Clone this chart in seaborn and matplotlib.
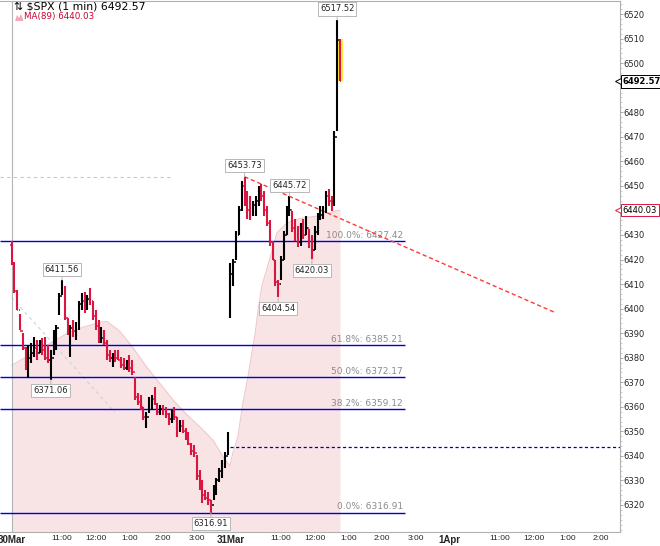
import numpy as np
import pandas as pd
import seaborn as sns
import matplotlib
matplotlib.use("Agg")
import matplotlib.pyplot as plt
from matplotlib.patches import Polygon
from matplotlib.transforms import blended_transform_factory

# -----------------------
# Data (5-minute bars)
# x = session minute: 0 = 30Mar 9:30, 390 = 31Mar 9:30, 780 = 1Apr 9:30
# -----------------------
bar_minute = list(range(0, 390, 5)) + list(range(390, 590, 5))

highs = [
    6427.4, 6418.8, 6407.4, 6398.0, 6389.9, 6384.2, 6385.1, 6385.9, 6388.3, 6387.1,
    6387.1, 6387.9, 6388.3, 6385.1, 6383.0, 6391.1, 6393.2, 6406.2, 6411.56, 6409.4,
    6396.0, 6393.2, 6395.2, 6394.4, 6403.3, 6406.2, 6406.6, 6405.4, 6408.2, 6403.3,
    6399.3, 6395.2, 6392.4, 6391.1, 6387.1, 6383.0, 6381.8, 6383.0, 6383.0, 6380.2,
    6379.8, 6378.9, 6381.0, 6378.9, 6372.0, 6365.5, 6364.7, 6359.8, 6357.8, 6363.9,
    6364.7, 6368.0, 6361.5, 6360.7, 6360.7, 6359.8, 6357.4, 6358.6, 6359.8, 6355.8,
    6354.6, 6354.6, 6351.3, 6349.7, 6345.2, 6344.4, 6340.3, 6334.2, 6330.2, 6326.1,
    6325.3, 6322.0, 6328.1, 6331.0, 6335.0, 6338.3, 6341.5, 6349.7,
    6418.4, 6420.4, 6431.8, 6441.9, 6452.1, 6453.73, 6448.1, 6446.0, 6444.0, 6446.0,
    6450.1, 6450.9, 6448.1, 6441.9, 6435.9, 6427.7, 6419.6, 6411.5, 6421.6, 6431.8,
    6441.9, 6445.72, 6439.9, 6436.7, 6433.8, 6435.0, 6436.7, 6437.9, 6432.6, 6429.8,
    6433.8, 6439.1, 6441.9, 6441.9, 6448.1, 6448.9, 6446.0, 6472.4, 6517.52, 6509.8,
]
lows = [
    6417.6, 6406.2, 6399.3, 6391.1, 6383.0, 6374.9, 6371.8, 6377.7, 6380.2, 6378.9,
    6381.8, 6381.0, 6378.9, 6377.7, 6371.06, 6381.0, 6383.0, 6397.2, 6405.4, 6395.2,
    6389.1, 6380.2, 6388.3, 6387.1, 6391.1, 6399.3, 6398.4, 6399.3, 6401.3, 6395.2,
    6391.1, 6385.9, 6385.9, 6385.1, 6378.9, 6378.1, 6376.1, 6378.1, 6378.9, 6375.7,
    6374.9, 6374.9, 6374.1, 6373.0, 6362.7, 6360.7, 6358.6, 6354.6, 6351.3, 6357.4,
    6358.6, 6360.7, 6356.6, 6356.6, 6356.6, 6355.4, 6352.5, 6353.3, 6354.6, 6347.7,
    6349.7, 6349.3, 6346.4, 6344.4, 6340.3, 6339.5, 6330.2, 6326.1, 6320.8, 6322.0,
    6320.0, 6316.91, 6322.0, 6324.1, 6329.3, 6331.0, 6335.0, 6340.3,
    6396.0, 6409.4, 6419.6, 6429.8, 6439.9, 6441.9, 6436.7, 6435.9, 6437.9, 6437.9,
    6441.9, 6444.0, 6437.9, 6433.8, 6425.7, 6419.6, 6409.4, 6404.54, 6411.5, 6419.6,
    6429.8, 6437.9, 6431.0, 6427.7, 6424.9, 6425.7, 6428.5, 6429.8, 6424.5, 6420.03,
    6423.7, 6429.8, 6435.9, 6436.7, 6439.1, 6441.9, 6439.9, 6441.9, 6472.4, 6492.57,
]
closes = [
    6418, 6407, 6399.5, 6391, 6384, 6376, 6380, 6382, 6384, 6382,
    6386, 6383, 6380, 6379, 6380, 6388, 6392, 6405, 6408, 6396,
    6390, 6392, 6391, 6393, 6402, 6403, 6401, 6404, 6403, 6397,
    6393, 6388, 6388, 6386, 6381, 6380, 6381, 6380, 6379, 6377,
    6376, 6377, 6376, 6374, 6364, 6362, 6360, 6356, 6356, 6362,
    6363, 6361, 6358, 6359, 6358, 6357, 6355, 6357, 6356, 6350,
    6352, 6350, 6348, 6345, 6342, 6341, 6332, 6328, 6324, 6323,
    6322, 6320, 6326, 6330, 6334, 6337, 6340, 6343.6,
    6414, 6419, 6430, 6440, 6450, 6444, 6440, 6438, 6442, 6444,
    6448, 6446, 6440, 6435, 6427, 6420, 6411, 6410, 6420, 6430,
    6440, 6440, 6433, 6430, 6427, 6432, 6430, 6433, 6426, 6424,
    6431, 6437, 6438, 6440, 6446, 6444, 6442, 6470, 6509.5, 6492.57,
]
session_open = {0: 6426.0, 390: 6399.0}

ma_minute = [0, 38, 69, 99, 127, 158, 170, 193, 216, 241, 264, 288, 313, 336, 359,
             377, 389, 394, 403, 412, 421, 428, 434, 439, 446, 455, 464, 473, 491,
             514, 550, 580, 585]
ma_value = [6376.9, 6381.8, 6385.9, 6389.9, 6392.4, 6394.4, 6394.8, 6390.7, 6384.2,
            6376.1, 6369.6, 6362.7, 6356.6, 6351.7, 6346.4, 6339.5, 6335.9, 6341.1,
            6347.6, 6361.5, 6372.0, 6381.8, 6389.9, 6399.3, 6409.4, 6416.3, 6423.7,
            6431.0, 6435.0, 6436.7, 6437.9, 6439.9, 6440.03]

fib_pct = ["100.0%", "61.8%", "50.0%", "38.2%", "0.0%"]
fib_level = [6427.42, 6385.21, 6372.17, 6359.12, 6316.91]

# swing labels (bar minute, which end of the bar)
pivots = [(90, "high"), (70, "low"), (355, "low"), (415, "high"), (495, "high"),
          (475, "low"), (535, "low"), (580, "high")]

trend_minute = [415, 968]
trend_price = [6453.73, 6398.4]
prev_close = 6343.6
old_level = 6453.7
old_ma_minute = [0, 184]
old_ma_price = [6404.6, 6357.8]

last_price = 6492.57
ma_last = 6440.03

tick_minute = [0, 90, 150, 210, 270, 330, 390, 480, 540, 600, 660, 720, 780,
               870, 930, 990, 1050]
tick_label = ["30Mar", "11:00", "12:00", "1:00", "2:00", "3:00", "31Mar", "11:00",
              "12:00", "1:00", "2:00", "3:00", "1Apr", "11:00", "12:00", "1:00", "2:00"]

df = pd.DataFrame({"minute": bar_minute, "high": highs, "low": lows, "close": closes})
df["open"] = df["close"].shift(1)
for m, o in session_open.items():
    df.loc[df["minute"] == m, "open"] = o
df["up"] = df["close"] >= df["open"]

ma_df = pd.DataFrame({"minute": ma_minute, "ma": ma_value})

# -----------------------
# Plot
# -----------------------
sns.set_style("white")
plt.rcParams["font.family"] = ["DejaVu Sans"]

fig = plt.figure(figsize=(6.6, 5.46), dpi=100)
ax = fig.add_axes([0, 14 / 546, 620 / 660, 1 - 15 / 546])
X0, X1 = -20.5, 1083.7
Y0, Y1 = 6309.0, 6525.3
ax.set_xlim(X0, X1)
ax.set_ylim(Y0, Y1)

# MA(89) area
ax.fill_between(ma_df["minute"], ma_df["ma"], Y0, color="#f8e4e4", lw=0, zorder=1)
sns.lineplot(data=ma_df, x="minute", y="ma", ax=ax, color="#f0c8ca", lw=0.8, zorder=2)

# helper lines
ax.hlines(old_level, X0, 282, color="#c8c8c8", lw=0.8, ls=(0, (3, 3)), zorder=2)
ax.plot(old_ma_minute, old_ma_price, color="#d2d2d2", lw=0.8, ls=(0, (3, 3)), zorder=2)
ax.axvline(0, color="#b4b4b4", lw=0.8, zorder=2)
ax.hlines(prev_close, 390, X1, color="#0000aa", lw=0.9, ls=(0, (2.5, 2)), zorder=3)

# fibonacci retracement
for pct, lvl in zip(fib_pct, fib_level):
    ax.hlines(lvl, X0, 701, color="#0000dd", lw=1.0, zorder=3)
    ax.text(697, lvl + 0.5, f"{pct}: {lvl:.2f}", ha="right", va="bottom",
            fontsize=6.5, color="#8c8c8c", zorder=3)

ax.plot(trend_minute, trend_price, color="#ff3838", lw=1.0, ls=(0, (3, 2)), zorder=4)

# current bar highlight
last = df.iloc[-1]
ax.vlines(last.minute, last.low, last.high, color="#ffee44", lw=4.5, zorder=4)

# OHLC bars
for _, r in df.iterrows():
    c = "#000000" if r.up else "#dc1440"
    ax.vlines(r.minute, r.low, r.high, color=c, lw=1.5, zorder=5)
    ax.hlines(r.open, r.minute - 2.4, r.minute, color=c, lw=1.1, zorder=5)
    ax.hlines(r.close, r.minute, r.minute + 2.4, color=c, lw=1.1, zorder=5)

# swing labels
for m, kind in pivots:
    row = df[df["minute"] == m].iloc[0]
    val = row["high"] if kind == "high" else row["low"]
    dy = 8 if kind == "high" else -8
    ax.annotate(f"{val:.2f}", xy=(m, val), xytext=(0, dy), textcoords="offset points",
                ha="center", va="center", fontsize=6,
                bbox=dict(boxstyle="square,pad=0.25", fc="white", ec="#b8b8b8", lw=0.7),
                arrowprops=dict(arrowstyle="-", color="#b8b8b8", lw=0.7,
                                shrinkA=0, shrinkB=0),
                zorder=7)

# axes styling
ax.spines["left"].set_visible(False)
for side in ["top", "right", "bottom"]:
    ax.spines[side].set_color("#b0b0b0")
    ax.spines[side].set_linewidth(0.8)

ax.yaxis.tick_right()
y_ticks = list(range(6320, 6521, 10))
ax.set_yticks(y_ticks)
# the two price callouts sit on top of these tick labels
ax.set_yticklabels(["" if t in (6440, 6490) else str(t) for t in y_ticks])
ax.set_yticks(np.arange(6310, 6526, 2), minor=True)
ax.tick_params(axis="y", which="major", labelsize=6, length=1.8, width=0.6,
               color="#999999", pad=0.8)
ax.tick_params(axis="y", which="minor", length=1.2, width=0.5, color="#bbbbbb")
ax.set_ylabel("")
ax.set_xlabel("")

ax.set_xticks(tick_minute)
ax.set_xticklabels(tick_label)
ax.tick_params(axis="x", length=0, pad=2.5)
for lbl, txt in zip(ax.get_xticklabels(), tick_label):
    lbl.set_family(["Liberation Sans", "DejaVu Sans"])
    if txt[-1].isalpha():
        lbl.set_fontweight("bold")
        lbl.set_fontsize(7)
    else:
        lbl.set_fontsize(6)

# right-edge price callouts
trans = blended_transform_factory(ax.transAxes, ax.transData)
ax.plot([0.9975], [last_price], marker="<", ms=5, mfc="white", mec="black", mew=0.7,
        transform=trans, clip_on=False, zorder=9)
ax.text(1.004, last_price, f"{last_price:.2f}", transform=trans, ha="left", va="center",
        fontsize=6, fontweight="bold", color="black", clip_on=False, zorder=10,
        bbox=dict(boxstyle="square,pad=0.2", fc="white", ec="black", lw=0.7))
ax.plot([0.9975], [ma_last], marker="<", ms=5, mfc="white", mec="#dc1440", mew=0.7,
        transform=trans, clip_on=False, zorder=9)
ax.text(1.004, ma_last, f"{ma_last:.2f}", transform=trans, ha="left", va="center",
        fontsize=6, color="black", clip_on=False, zorder=10,
        bbox=dict(boxstyle="square,pad=0.2", fc="white", ec="#dc1440", lw=0.7))

# header
fig.text(14 / 660, 1 - 1.5 / 546, "\u21c5 \\$SPX (1 min) 6492.57", ha="left", va="top",
         fontsize=7.8, color="black")
icon = Polygon([(15 / 660, 1 - 21 / 546), (17 / 660, 1 - 15 / 546), (19 / 660, 1 - 18 / 546),
                (21 / 660, 1 - 14 / 546), (23 / 660, 1 - 19 / 546), (23 / 660, 1 - 21 / 546)],
               closed=True, transform=fig.transFigure, fc="#f3a7b6", ec="none")
fig.add_artist(icon)
fig.text(24 / 660, 1 - 12 / 546, f"MA(89) {ma_last:.2f}", ha="left", va="top",
         fontsize=6.3, color="#cc0033")

plt.savefig("out.png", dpi=100)
